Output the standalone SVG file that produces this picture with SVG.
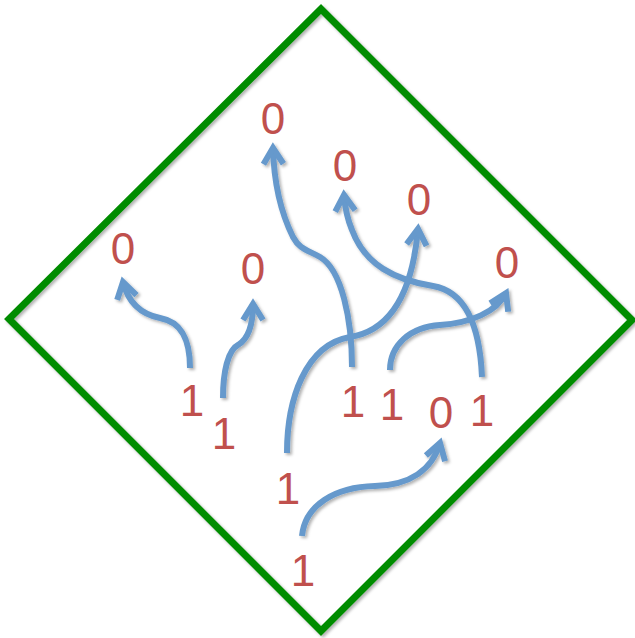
<svg xmlns="http://www.w3.org/2000/svg" width="635" height="638" viewBox="0 0 635 638">
<defs>
<filter id="sh" x="-10%" y="-10%" width="120%" height="120%">
<feDropShadow dx="2" dy="2" stdDeviation="1.5" flood-color="#000" flood-opacity="0.3"/>
</filter>
<marker id="ah" markerUnits="userSpaceOnUse" markerWidth="50" markerHeight="50" viewBox="-25 -25 50 50" refX="0" refY="0" orient="auto" overflow="visible">
<path d="M-16,-10 L0,0 L-16,10" fill="none" stroke="#6699cc" stroke-width="6" stroke-linejoin="miter"/>
</marker>
</defs>
<style>
.frame{fill:none;stroke:#008c00;stroke-width:7;stroke-linejoin:miter}
.arr{fill:none;stroke:#6699cc;stroke-width:6;marker-end:url(#ah)}
.lbl{font-family:"Liberation Sans",Arial,sans-serif;font-size:44px;fill:#c0504d;text-anchor:middle}
</style>
<g id="frame" filter="url(#sh)">
<polygon class="frame" points="321,9 632,320 321,631 9,319"/>
</g>
<g id="connectors" filter="url(#sh)">
<path class="arr" d="M190,368 C190,340 182,322 160,318 C140,314 128,302 123,282"/>
<path class="arr" d="M223,398 C223,372 228,350 238,345 C250,338 253,322 253,304"/>
<path class="arr" d="M352,367 C352,320 342,270 320,257 C308,250 300,250 293,237 C282,215 274,185 273,148"/>
<path class="arr" d="M482,377 C480,330 468,292 433,286 C395,280 365,265 352,230 C347,218 345,208 344,195"/>
<path class="arr" d="M287,453 C287,400 305,345 350,337 C395,330 413,285 418,229"/>
<path class="arr" d="M390,370 C390,345 410,327 440,325 C470,323 497,312 506,293"/>
<path class="arr" d="M302,536 C305,505 335,487 375,486 C410,485 432,470 440,443"/>
</g>
<g id="labels">
<g id="n1"><text class="lbl" x="123" y="264">0</text></g>
<g id="n2"><text class="lbl" x="253" y="284">0</text></g>
<g id="n3"><text class="lbl" x="273" y="134">0</text></g>
<g id="n4"><text class="lbl" x="345" y="181">0</text></g>
<g id="n5"><text class="lbl" x="419" y="215">0</text></g>
<g id="n6"><text class="lbl" x="507" y="278">0</text></g>
<g id="n7"><text class="lbl" x="192" y="416">1</text></g>
<g id="n8"><text class="lbl" x="224" y="449">1</text></g>
<g id="n9"><text class="lbl" x="353" y="417">1</text></g>
<g id="n10"><text class="lbl" x="392" y="420">1</text></g>
<g id="n11"><text class="lbl" x="441" y="428">0</text></g>
<g id="n12"><text class="lbl" x="482" y="426">1</text></g>
<g id="n13"><text class="lbl" x="288" y="504">1</text></g>
<g id="n14"><text class="lbl" x="303" y="586">1</text></g>
</g>
</svg>
